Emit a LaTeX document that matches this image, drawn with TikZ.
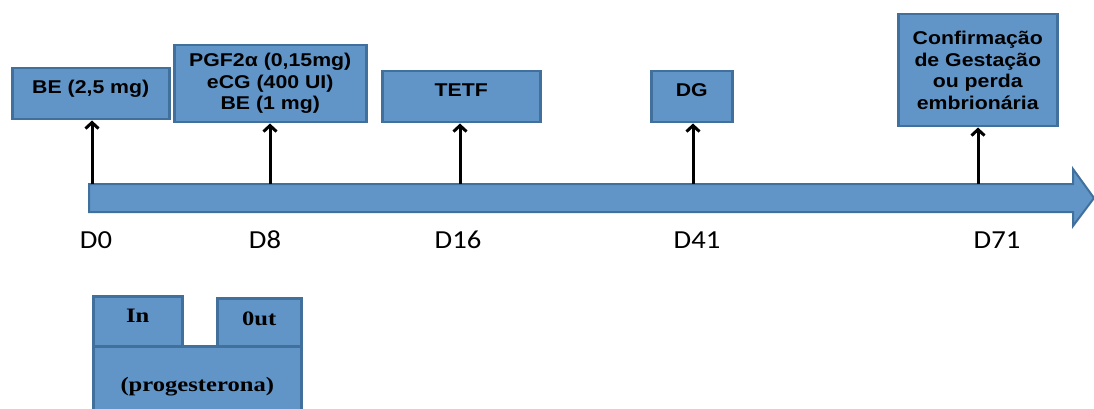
\documentclass[tikz,border=0pt]{standalone}
\usepackage{fontspec}
\usetikzlibrary{arrows.meta}
\newfontfamily\boxfont[FakeStretch=1.15]{Liberation Sans}
\newfontfamily\dayfont[FakeStretch=1.1]{Carlito}
\newfontfamily\tubefont[FakeStretch=1.2]{Liberation Serif}
\definecolor{boxblue}{RGB}{97,149,199}
\definecolor{boxline}{RGB}{65,112,156}
\tikzset{
  box/.style={draw=boxline, fill=boxblue, line width=2.5pt, inner sep=0pt,
    anchor=north west, align=center, font=\boxfont\bfseries\fontsize{18.5}{21.5}\selectfont},
  onetop/.style={text height=25pt, text depth=26pt},
  tube/.style={draw=boxline, fill=boxblue, line width=2.5pt, inner sep=0pt,
    anchor=north west, font=\tubefont\bfseries\fontsize{20.5}{24}\selectfont},
  day/.style={font=\dayfont\fontsize{26}{30}\selectfont},
  tick/.style={line width=3pt, -{Straight Barb[length=6pt,width=13pt]}}
}
\begin{document}
\begin{tikzpicture}[x=1pt, y=-1pt]
   \useasboundingbox (0,0) rectangle (1094,409);
   \fill[boxblue, draw=boxline, line width=2pt] (89,184) -- (1073,184) -- (1073,169)
      -- (1094,198) -- (1073,226) -- (1073,212) -- (89,212) -- cycle;
   \node[box, onetop, minimum width=157] (be) at (11,67) {BE (2,5 mg)};
   \node[box, minimum width=192, minimum height=77] (pgf) at (173,44)
      {PGF2α (0,15mg)\\eCG (400 UI)\\BE (1 mg)};
   \node[box, onetop, minimum width=158] (tetf) at (381,70) {TETF};
   \node[box, onetop, minimum width=81] (dg) at (650,70) {DG};
   \node[box, minimum width=159, minimum height=112] (conf) at (897,13)
      {Confirmação\\de Gestação\\ou perda\\embrionária};
   \coordinate (t0) at (92,184);
   \coordinate (t8) at (270,184);
   \coordinate (t16) at (460,184);
   \coordinate (t41) at (693,184);
   \coordinate (t71) at (978,184);
   \draw[tick] (t0) -- (t0 |- be.south);
   \draw[tick] (t8) -- (t8 |- pgf.south);
   \draw[tick] (t16) -- (t16 |- tetf.south);
   \draw[tick] (t41) -- (t41 |- dg.south);
   \draw[tick] (t71) -- (t71 |- conf.south);
   \node[day] (d0) at (96,240) {D0};
   \node[day] (d8) at (265,240) {D8};
   \node[day] (d16) at (458,240) {D16};
   \node[day] (d41) at (697,240) {D41};
   \node[day] (d71) at (997,240) {D71};
   \node[tube, minimum width=208, minimum height=80] (prog) at (92,345) {(progesterona)};
   \node[tube, text height=26pt, text depth=24pt, minimum width=89] (in) at (92,295) {In};
   \node[tube, text height=27pt, text depth=21pt, minimum width=84] (out) at (216,297) {0ut};
\end{tikzpicture}
\end{document}
